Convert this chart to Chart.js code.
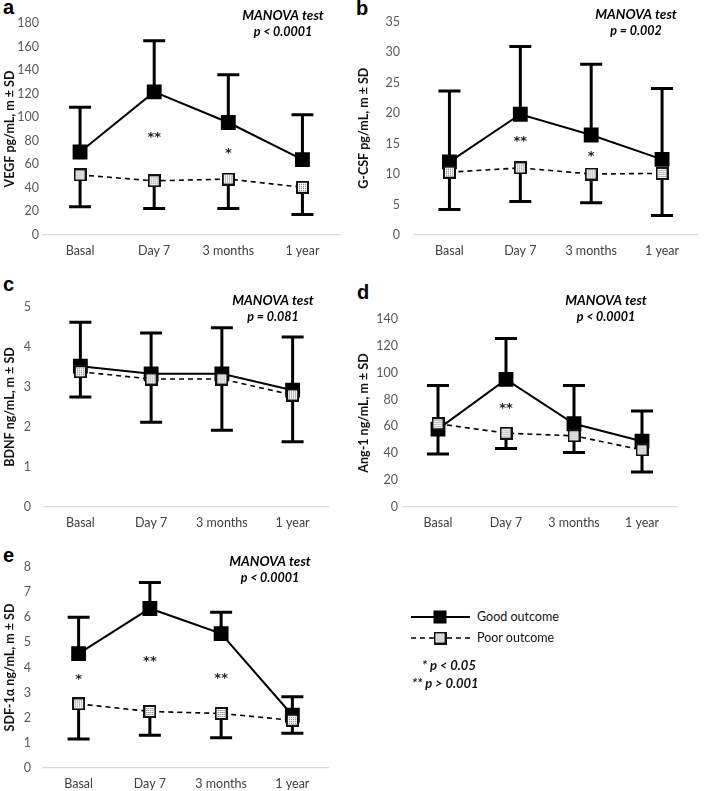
<!DOCTYPE html>
<html>
<head>
<meta charset="utf-8">
<script src="https://cdn.jsdelivr.net/npm/chart.js@4.4.1/dist/chart.umd.min.js"></script>
<style>
  body { margin: 0; background: #fff; width: 708px; height: 791px; position: relative; overflow: hidden; font-family: Lato, 'Liberation Sans', sans-serif; }
  canvas.panel { position: absolute; }
  .letter { position: absolute; font: bold 20px 'Liberation Sans', Arial, sans-serif; line-height: 20px; color: #000; }
  .leg { position: absolute; font-size: 12.5px; color: #111; white-space: nowrap; }
  .sig { position: absolute; font: italic bold 13px Lato, sans-serif; color: #111; white-space: nowrap; }
</style>
</head>
<body>
<div class="letter" style="left:3px;top:-3px">a</div>
<div class="letter" style="left:356px;top:-2px">b</div>
<div class="letter" style="left:3px;top:274px">c</div>
<div class="letter" style="left:357px;top:282px">d</div>
<div class="letter" style="left:3px;top:545px">e</div>

<canvas class="panel" id="pa" width="350" height="262" style="left:0;top:0"></canvas>
<canvas class="panel" id="pb" width="354" height="262" style="left:354px;top:0"></canvas>
<canvas class="panel" id="pc" width="350" height="270" style="left:0;top:262px"></canvas>
<canvas class="panel" id="pd" width="354" height="270" style="left:354px;top:262px"></canvas>
<canvas class="panel" id="pe" width="350" height="259" style="left:0;top:532px"></canvas>

<canvas id="legGood" width="62" height="18" style="position:absolute;left:410px;top:608px"></canvas>
<canvas id="legPoor" width="62" height="18" style="position:absolute;left:410px;top:629px"></canvas>
<div class="leg" style="left:477px;top:609px">Good outcome</div>
<div class="leg" style="left:477px;top:630px">Poor outcome</div>
<div class="sig" style="left:422px;top:657px">* p &lt; 0.05</div>
<div class="sig" style="left:412px;top:675px">** p &gt; 0.001</div>

<script>
// categories
const categories = ['Basal', 'Day 7', '3 months', '1 year'];

// a: VEGF
const vegfGood = [70.5, 121.5, 95.5, 64];
const vegfGoodUpper = [108.5, 165, 136, 102];
const vegfPoor = [51, 46, 47.5, 40.5];
const vegfPoorLower = [24, 22.5, 22.5, 17.5];
const vegfSig = ['', '**', '*', ''];
const vegfSigY = [null, 84, 71, null];

// b: G-CSF
const gcsfGood = [12, 19.8, 16.4, 12.4];
const gcsfGoodUpper = [23.6, 30.9, 28, 24];
const gcsfPoor = [10.3, 11, 10, 10.1];
const gcsfPoorLower = [4.2, 5.5, 5.3, 3.2];
const gcsfSig = ['', '**', '*', ''];
const gcsfSigY = [null, 15.7, 13.2, null];

// c: BDNF
const bdnfGood = [3.52, 3.33, 3.33, 2.92];
const bdnfGoodUpper = [4.62, 4.35, 4.48, 4.25];
const bdnfPoor = [3.38, 3.2, 3.2, 2.8];
const bdnfPoorLower = [2.75, 2.12, 1.92, 1.63];
const bdnfSig = ['', '', '', ''];
const bdnfSigY = [null, null, null, null];

// d: Ang-1
const angGood = [58, 95, 62, 49];
const angGoodUpper = [90.5, 125.5, 90.5, 71.5];
const angPoor = [62, 55, 53, 42.5];
const angPoorLower = [39.5, 43.5, 40.5, 26];
const angSig = ['', '**', '', ''];
const angSigY = [null, 75, null, null];

// e: SDF-1a
const sdfGood = [4.55, 6.35, 5.35, 2.1];
const sdfGoodUpper = [6.0, 7.38, 6.2, 2.84];
const sdfPoor = [2.55, 2.25, 2.17, 1.9];
const sdfPoorLower = [1.15, 1.3, 1.2, 1.38];
const sdfSig = ['*', '**', '**', ''];
const sdfSigY = [3.6, 4.3, 3.65, null];

// patterned marker for "Poor outcome"
function poorMarker(size) {
    const c = document.createElement('canvas');
    c.width = c.height = size;
    const g = c.getContext('2d');
    g.fillStyle = '#111';
    g.fillRect(0, 0, size, size);
    g.fillStyle = '#fff';
    g.fillRect(2, 2, size - 4, size - 4);
    g.fillStyle = '#666';
    for (let i = 3; i < size - 3; i += 2) {
        for (let j = 3; j < size - 3; j += 2) {
            g.fillRect(i, j, 1, 1);
        }
    }
    return c;
}
const poorImg = poorMarker(13);

const errorBars = {
    id: 'errorBars',
    beforeDatasetsDraw(chart, args, opts) {
        const { ctx, scales: { x, y } } = chart;
        ctx.save();
        ctx.strokeStyle = '#000';
        ctx.lineWidth = 3;
        (opts.bars || []).forEach(b => {
            b.from.forEach((v, i) => {
                const px = x.getPixelForValue(i);
                const y0 = y.getPixelForValue(v);
                const y1 = y.getPixelForValue(b.to[i]);
                ctx.beginPath();
                ctx.moveTo(px, y0);
                ctx.lineTo(px, y1);
                ctx.moveTo(px - opts.cap, y1);
                ctx.lineTo(px + opts.cap, y1);
                ctx.stroke();
            });
        });
        ctx.restore();
    }
};

const notes = {
    id: 'notes',
    afterDraw(chart, args, opts) {
        const { ctx, scales: { x, y } } = chart;
        ctx.save();
        ctx.fillStyle = '#222';
        ctx.textAlign = 'center';
        ctx.textBaseline = 'middle';
        ctx.font = 'bold 13px "DejaVu Sans", sans-serif';
        opts.sig.forEach((s, i) => {
            if (s) ctx.fillText(s, x.getPixelForValue(i), y.getPixelForValue(opts.sigY[i]) + 2);
        });
        ctx.fillStyle = '#000';
        ctx.font = 'italic bold 13.5px Lato, sans-serif';
        ctx.fillText('MANOVA test', opts.mx, opts.my);
        ctx.font = 'italic bold 12.5px Lato, sans-serif';
        ctx.fillText(opts.p, opts.mx, opts.my + 16);
        ctx.restore();
    }
};

function makePanel(id, p) {
    return new Chart(document.getElementById(id), {
        type: 'line',
        data: {
            labels: categories,
            datasets: [
                {
                    label: 'Poor outcome',
                    data: p.poor,
                    borderColor: '#000',
                    borderWidth: 1.6,
                    borderDash: [5, 4],
                    pointStyle: poorImg,
                    tension: 0
                },
                {
                    label: 'Good outcome',
                    data: p.good,
                    borderColor: '#000',
                    borderWidth: 2,
                    pointStyle: 'rect',
                    pointRadius: 10.5,
                    pointBackgroundColor: '#000',
                    pointBorderColor: '#000',
                    pointBorderWidth: 0,
                    tension: 0
                }
            ]
        },
        options: {
            responsive: false,
            animation: false,
            events: [],
            layout: { padding: { top: p.top, right: p.right, left: 0, bottom: 0 } },
            scales: {
                x: {
                    offset: true,
                    grid: { display: false, drawTicks: false },
                    border: { display: true, color: '#d9d9d9', width: 1.2 },
                    ticks: { color: '#404040', font: { family: 'Lato', size: 12.5 }, padding: 8 },
                    afterFit: s => { s.height = p.xh; }
                },
                y: {
                    min: 0, max: p.max,
                    grid: { display: false, drawTicks: false },
                    border: { display: false },
                    ticks: { stepSize: p.step, color: '#595959', font: { family: 'Lato', size: 12.5 }, padding: p.tp },
                    title: { display: true, text: p.title, color: '#111', font: { family: 'Lato', size: 12.5, weight: 'bold' }, padding: { top: 2, bottom: 0 } },
                    afterFit: s => { s.width = p.yw; }
                }
            },
            plugins: {
                legend: { display: false },
                tooltip: { enabled: false },
                errorBars: { cap: 11, bars: [{ from: p.good, to: p.up }, { from: p.poor, to: p.low }] },
                notes: { sig: p.sig, sigY: p.sigY, mx: p.mx, my: p.my, p: p.pText }
            }
        },
        plugins: [errorBars, notes]
    });
}

makePanel('pa', { good: vegfGood, up: vegfGoodUpper, poor: vegfPoor, low: vegfPoorLower, sig: vegfSig, sigY: vegfSigY,
    max: 180, step: 20, title: 'VEGF pg/mL, m ± SD', top: 23, right: 8, yw: 43, tp: 4, xh: 27, mx: 283, my: 16, pText: 'p < 0.0001' });
makePanel('pb', { good: gcsfGood, up: gcsfGoodUpper, poor: gcsfPoor, low: gcsfPoorLower, sig: gcsfSig, sigY: gcsfSigY,
    max: 35, step: 5, title: 'G-CSF pg/mL, m ± SD', top: 21, right: 6, yw: 60, tp: 14, xh: 27, mx: 282, my: 15, pText: 'p = 0.002' });
makePanel('pc', { good: bdnfGood, up: bdnfGoodUpper, poor: bdnfPoor, low: bdnfPoorLower, sig: bdnfSig, sigY: bdnfSigY,
    max: 5, step: 1, title: 'BDNF ng/mL, m ± SD', top: 45, right: 22, yw: 45, tp: 14, xh: 25, mx: 273, my: 39, pText: 'p = 0.081' });
makePanel('pd', { good: angGood, up: angGoodUpper, poor: angPoor, low: angPoorLower, sig: angSig, sigY: angSigY,
    max: 140, step: 20, title: 'Ang-1 ng/mL, m ± SD', top: 57, right: 32, yw: 50, tp: 6, xh: 25, mx: 252, my: 39, pText: 'p < 0.0001' });
makePanel('pe', { good: sdfGood, up: sdfGoodUpper, poor: sdfPoor, low: sdfPoorLower, sig: sdfSig, sigY: sdfSigY,
    max: 8, step: 1, title: 'SDF-1α ng/mL, m ± SD', top: 35, right: 22, yw: 43, tp: 12, xh: 23, mx: 270, my: 30, pText: 'p < 0.0001' });

// legend samples
function legendSample(id, dashed) {
    const g = document.getElementById(id).getContext('2d');
    g.strokeStyle = '#000';
    g.lineWidth = dashed ? 1.6 : 2;
    if (dashed) g.setLineDash([5, 4]);
    g.beginPath();
    g.moveTo(1, 9);
    g.lineTo(60, 9);
    g.stroke();
    if (dashed) {
        g.drawImage(poorImg, 30 - 6.5, 9 - 6.5);
    } else {
        g.fillStyle = '#000';
        g.fillRect(30 - 6.5, 9 - 6.5, 13, 13);
    }
}
legendSample('legGood', false);
legendSample('legPoor', true);
</script>
</body>
</html>
